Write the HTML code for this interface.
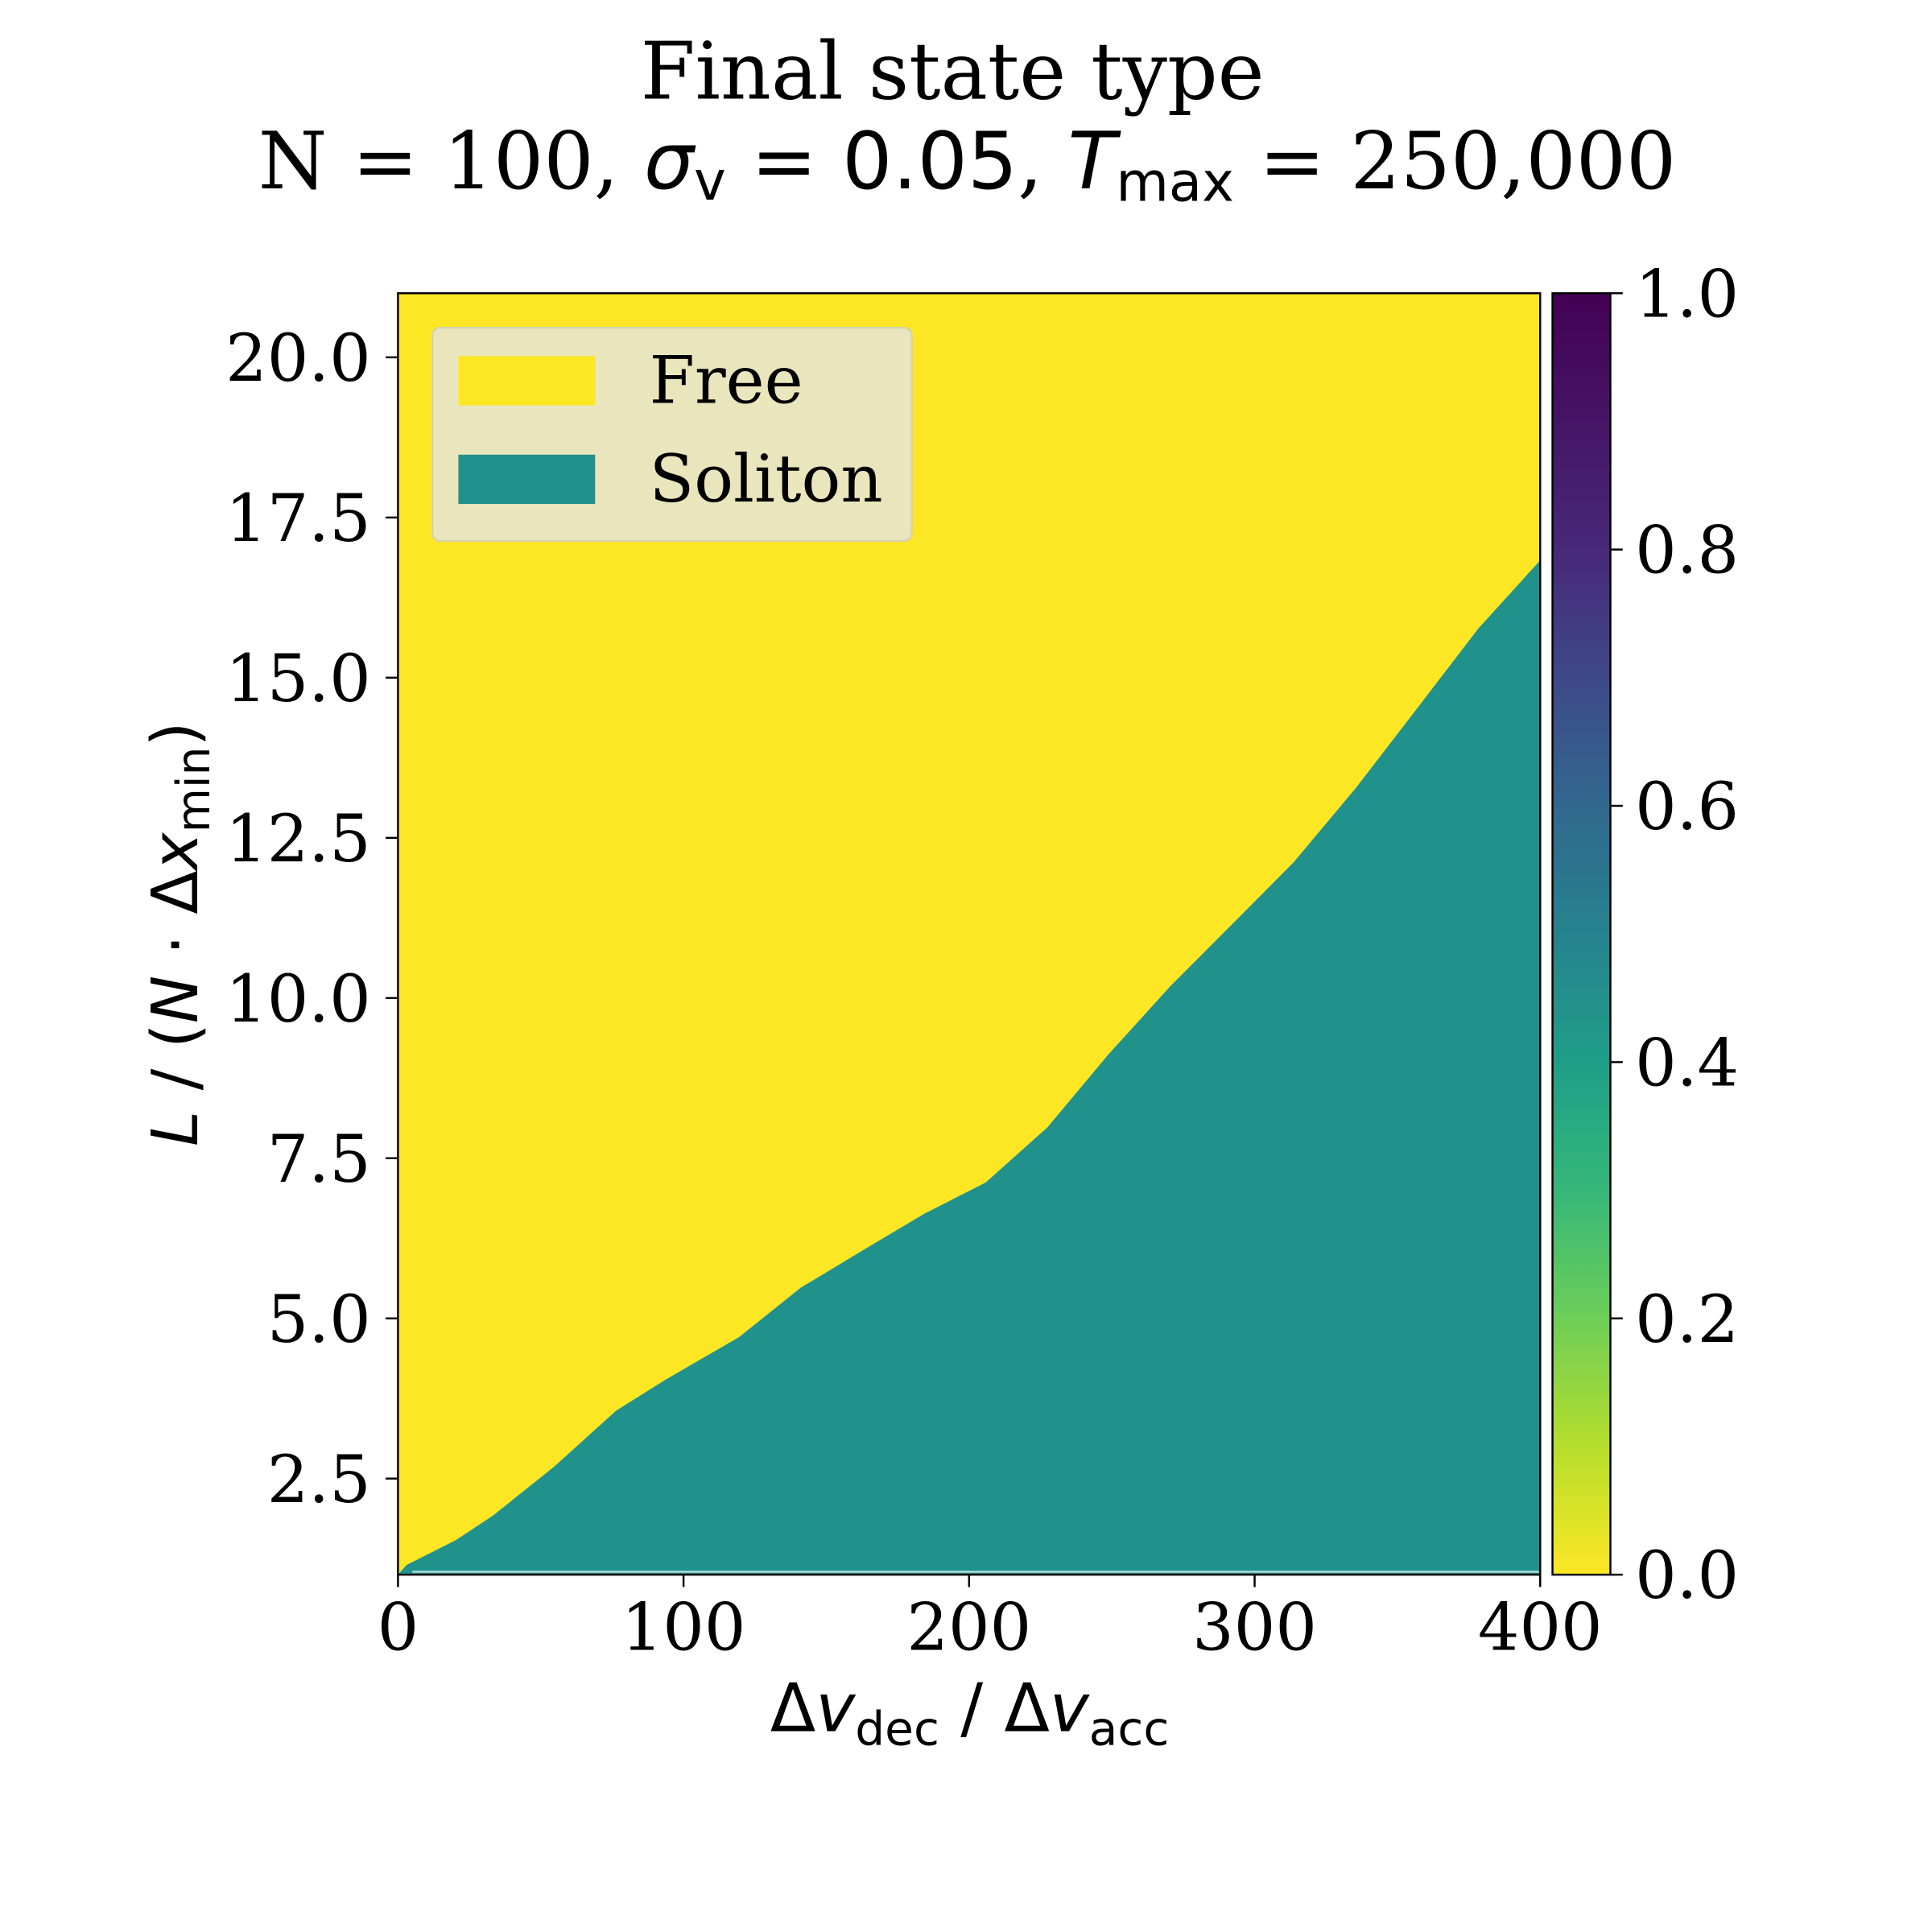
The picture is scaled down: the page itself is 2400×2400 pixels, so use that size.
<!DOCTYPE html>
<html><head><meta charset="utf-8"><style>html,body{margin:0;padding:0;background:#fff}svg{display:block}</style></head>
<body>
<svg width="2400" height="2400" viewBox="0 0 1568 1568" xmlns="http://www.w3.org/2000/svg">
<defs><linearGradient id="vir" x1="0" y1="1" x2="0" y2="0">
<stop offset="0" stop-color="#fde725"/><stop offset="0.1" stop-color="#b5de2b"/><stop offset="0.2" stop-color="#6ece58"/><stop offset="0.3" stop-color="#35b779"/><stop offset="0.4" stop-color="#1f9e89"/><stop offset="0.5" stop-color="#26828e"/><stop offset="0.6" stop-color="#31688e"/><stop offset="0.7" stop-color="#3e4989"/><stop offset="0.8" stop-color="#482878"/><stop offset="1" stop-color="#440154"/></linearGradient></defs>
<g font-family="'DejaVu Serif',serif" fill="#000">
<text x="773" y="80" font-size="64" text-anchor="middle">Final state type</text>
<text x="785" y="153" font-size="64" text-anchor="middle">N = 100, <tspan font-family="'DejaVu Sans',sans-serif" font-style="italic">σ</tspan><tspan font-family="'DejaVu Sans',sans-serif" font-size="44" dy="9">v</tspan><tspan dy="-9" font-family="'DejaVu Sans',sans-serif"> = 0.05</tspan>, <tspan font-family="'DejaVu Sans',sans-serif" font-style="italic">T</tspan><tspan font-family="'DejaVu Sans',sans-serif" font-size="44" dy="10">max</tspan><tspan dy="-10"> = 250,000</tspan></text>
</g>
<g id="plot"></g>
<g id="cb"></g>
</svg>
<script>
const xs=[0,3,20.3,33.2,54.8,76.4,93.6,119.5,141.1,162.7,184.2,205.8,227.4,249,270.6,292.1,313.7,335.3,356.9,378.4,400];
const boundaryL=[1.0,1.15,1.54,1.92,2.69,3.56,4.04,4.71,5.48,6.06,6.63,7.12,7.98,9.13,10.19,11.15,12.12,13.27,14.52,15.77,16.83];
const xTicks=[0,100,200,300,400];
const yTicks=[2.5,5.0,7.5,10.0,12.5,15.0,17.5,20.0];
const cbTicks=[0.0,0.2,0.4,0.6,0.8,1.0];
const legendLabels=["Free","Soliton"];
const legendColors=["#fde725","#21918c"];
const NS="http://www.w3.org/2000/svg";
const L=323,R=1250,T=238,B=1278;
const sx=v=>L+(v-0)/400*(R-L);
const sy=v=>B-(v-1)/20*(B-T);
function el(tag,attrs,parent){const e=document.createElementNS(NS,tag);for(const k in attrs)e.setAttribute(k,attrs[k]);parent.appendChild(e);return e;}
const g=document.getElementById('plot');
const bg=el('rect',{x:L,y:T,width:R-L,height:B-T,fill:'#fde725'},g);


let pts=`${sx(0)},${sy(1)} `;
for(let i=0;i<xs.length;i++)pts+=`${sx(xs[i])},${sy(boundaryL[i])} `;
pts+=`${sx(400)},${sy(1)}`;
const poly=el('polygon',{points:pts,fill:'#21918c'},g);


const wl=el('rect',{x:sx(5),y:sy(1.06),width:sx(400)-sx(5),height:1.5,fill:'#ffffff',opacity:0.7},g);


const fr=el('rect',{x:L,y:T,width:R-L,height:B-T,fill:'none',stroke:'#000','stroke-width':1.6},g);


const font="'DejaVu Serif',serif";
xTicks.forEach(v=>{
  const x=sx(v);
  const t=el('line',{x1:x,y1:B,x2:x,y2:B+10,stroke:'#000','stroke-width':1.6},g);
  
  
  const tx=el('text',{x:x,y:B+61,'font-size':53,'text-anchor':'middle','font-family':font},g);
  tx.textContent=v;
  
  
});
yTicks.forEach(v=>{
  const y=sy(v);
  const t=el('line',{x1:L-10,y1:y,x2:L,y2:y,stroke:'#000','stroke-width':1.6},g);
  
  
  const tx=el('text',{x:L-22,y:y+19,'font-size':53,'text-anchor':'end','font-family':font},g);
  tx.textContent=v.toFixed(1);
  
  
});
const xl=el('text',{x:787,y:1405,'font-size':54,'text-anchor':'middle','font-family':"'DejaVu Sans',sans-serif"},g);
xl.innerHTML='Δ<tspan font-style="italic">v</tspan><tspan font-size="38" dy="11">dec</tspan><tspan dy="-11"> / Δ</tspan><tspan font-style="italic">v</tspan><tspan font-size="38" dy="11">acc</tspan>';


const yl=el('text',{x:0,y:0,'font-size':52,'text-anchor':'middle','font-family':"'DejaVu Sans',sans-serif",transform:'translate(160,758) rotate(-90)'},g);
yl.innerHTML='<tspan font-style="italic">L</tspan> / (<tspan font-style="italic">N</tspan> · Δ<tspan font-style="italic">x</tspan><tspan font-size="37" dy="10">min</tspan><tspan dy="-10">)</tspan>';


const lg=el('g',{},g);


el('rect',{x:351,y:266,width:389,height:173,rx:6,fill:'#e9e6bd',stroke:'#d4d2b0','stroke-width':1.5},lg);
legendLabels.forEach((lab,i)=>{
  const y=289+i*80;
  const sw=el('rect',{x:372,y:y,width:111,height:40,fill:legendColors[i]},lg);
  
  
  const tx=el('text',{x:527,y:y+38,'font-size':53,'font-family':font},lg);
  tx.textContent=lab;
  
  
});
const cb=document.getElementById('cb');
const cbx=1260,cbw=47;
const cr=el('rect',{x:cbx,y:T,width:cbw,height:B-T,fill:'url(#vir)',stroke:'#000','stroke-width':1.6},cb);


cbTicks.forEach(v=>{
  const y=B-v*(B-T);
  const t=el('line',{x1:cbx+cbw,y1:y,x2:cbx+cbw+10,y2:y,stroke:'#000','stroke-width':1.6},cb);
  
  
  const tx=el('text',{x:cbx+cbw+20,y:y+19,'font-size':53,'font-family':font},cb);
  tx.textContent=v.toFixed(1);
  
  
});
</script>
</body></html>
